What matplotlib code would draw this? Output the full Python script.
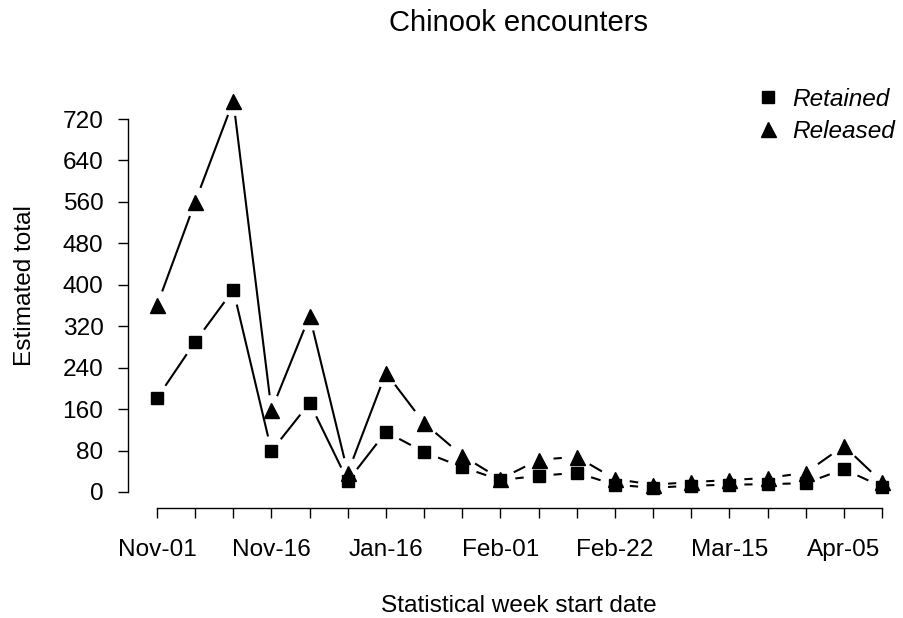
import numpy as np
import matplotlib
matplotlib.use("Agg")
import matplotlib.pyplot as plt
from matplotlib.lines import Line2D

# weekly estimates
retained = [181, 290, 390, 79, 172, 21, 116, 77, 48, 23, 31, 37, 14, 8, 12, 14, 15, 17, 44, 10]
released = [360, 560, 755, 158, 340, 37, 230, 133, 70, 25, 62, 68, 25, 14, 19, 23, 27, 37, 89, 19]
week_labels = ["Nov-01", "", "", "Nov-16", "", "", "Jan-16", "", "", "Feb-01",
               "", "", "Feb-22", "", "", "Mar-15", "", "", "Apr-05", ""]
y_ticks = list(range(0, 721, 80))

plt.rcParams['font.family'] = ['Liberation Sans', 'DejaVu Sans']
FS = 17.6

W, H = 904, 618
fig = plt.figure(figsize=(W / 100, H / 100), dpi=100)
# plot region in pixels: left 128, right 911, top 60, bottom 508
ax = fig.add_axes([128 / W, (H - 508) / H, (911 - 128) / W, (508 - 60) / H])
ax.set_xlim(-0.76, 19.76)
ax.set_ylim(-31, 834)

x = np.arange(len(retained))


def gapped(ax, xs, ys, gap_px=15, **kw):
    # like R's type="b": lines stop short of each point
    pts = ax.transData.transform(np.column_stack([xs, ys]))
    inv = ax.transData.inverted()
    for p, q in zip(pts[:-1], pts[1:]):
        d = q - p
        L = np.hypot(*d)
        if L <= 2 * gap_px:
            continue
        u = d / L
        a, b = inv.transform([p + u * gap_px, q - u * gap_px])
        ax.plot([a[0], b[0]], [a[1], b[1]], color="black", lw=1.5,
                solid_capstyle="butt", **kw)


gapped(ax, x, retained)
gapped(ax, x, released)
ax.plot(x, retained, ls="none", marker="s", ms=8.2, color="black")
ax.plot(x, released, ls="none", marker="^", ms=10.8, color="black")

for s in ["top", "right"]:
    ax.spines[s].set_visible(False)
ax.spines["left"].set_bounds(0, 720)
ax.spines["bottom"].set_bounds(0, 19)
ax.spines["left"].set_linewidth(1.0)
ax.spines["bottom"].set_linewidth(1.0)

ax.set_yticks(y_ticks)
ax.set_yticklabels([str(v) for v in y_ticks])
ax.set_xticks(x)
ax.set_xticklabels(week_labels)
ax.tick_params(axis="both", direction="out", length=7.2, width=1.0, labelsize=FS)
ax.tick_params(axis="y", pad=10.5)
ax.tick_params(axis="x", pad=15)

fig.text(519 / W, 1 - 23 / H, "Chinook encounters", ha="center", va="center", fontsize=21)
fig.text(519 / W, 1 - 606 / H, "Statistical week start date", ha="center", va="center", fontsize=FS)
fig.text(25 / W, 1 - 286 / H, "Estimated total", ha="center", va="center",
         rotation=90, fontsize=FS)

handles = [Line2D([], [], ls="none", marker="s", ms=8.2, color="black"),
           Line2D([], [], ls="none", marker="^", ms=10.8, color="black")]
fig.legend(handles, ["Retained", "Released"], loc="upper left",
           bbox_to_anchor=(756 / W, 1 - 88 / H), frameon=False,
           handlelength=1.0, handletextpad=0.5, borderpad=0, borderaxespad=0,
           labelspacing=0.35, prop={"style": "italic", "size": FS})

fig.savefig("out.png", dpi=100)
